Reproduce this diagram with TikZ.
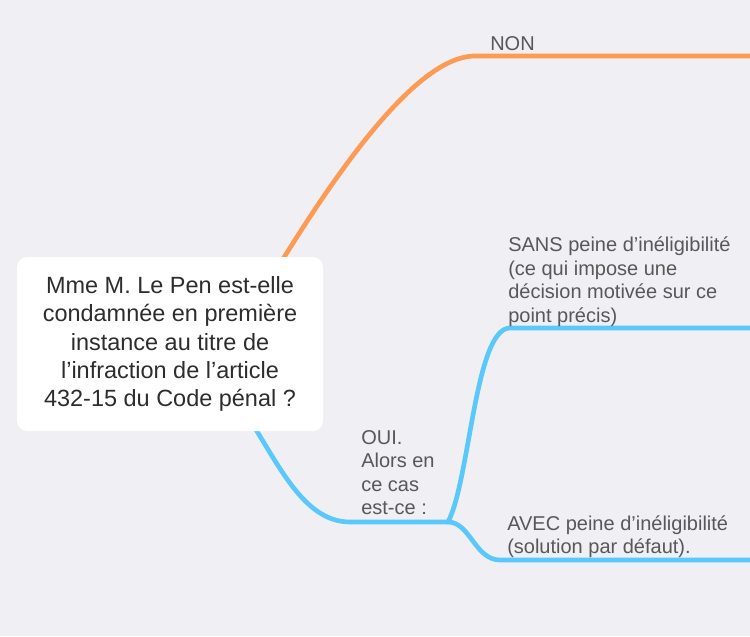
\documentclass[tikz,border=0pt]{standalone}
\usepackage{fontspec}
\setmainfont{Liberation Sans}
\usepackage{xcolor}
\usetikzlibrary{backgrounds}
\definecolor{bgGray}{RGB}{239,239,244}
\definecolor{brOrange}{RGB}{253,154,84}
\definecolor{brBlue}{RGB}{90,200,250}
\definecolor{inkq}{RGB}{45,45,45}
\definecolor{inklbl}{RGB}{88,88,88}

\begin{document}
\begin{tikzpicture}[x=0.75pt,y=-0.75pt,
  q/.style={fill=white,rounded corners=7.5pt,minimum width=229.5pt,minimum height=130.5pt,
            align=center,text=inkq,font=\fontsize{17.6}{21.2}\selectfont,inner sep=0pt},
  lbl/.style={anchor=north west,inner sep=0pt,align=left,text=inklbl,
              font=\fontsize{15}{17.6}\selectfont},
  br/.style={line width=3.5pt,line cap=round}]
  \useasboundingbox (0,0) rectangle (750,636);
  \node[q] (q) at (170,344) {Mme M. Le Pen est-elle\\condamnée en première\\instance au titre de\\l’infraction de l’article\\432-15 du Code pénal ?};
  \node[lbl] (non) at (490,36) {NON};
  \node[lbl] (oui) at (361,430) {OUI.\\Alors en\\ce cas\\est-ce :};
  \node[lbl] (sans) at (508,237) {SANS peine d’inéligibilité\\(ce qui impose une\\décision motivée sur ce\\point précis)};
  \node[lbl] (avec) at (507,515) {AVEC peine d’inéligibilité\\(solution par défaut).};
  \coordinate (fork) at (448,522);
  \coordinate (endN) at (750,56);
  \coordinate (endS) at (750,328);
  \coordinate (endA) at (750,560);
  \begin{scope}[on background layer]
    \fill[bgGray] (0,0) rectangle (750,636);
    % NON branch
    \draw[br,brOrange] ([shift={(88,-44)}]q.center) .. controls (318,200) and (410,56) .. (475,56) -- (endN);
    % OUI branch and its two cases
    \draw[br,brBlue] ([shift={(70,61)}]q.center) .. controls (275,455) and (300,522) .. (350,522) -- (fork);
    \draw[br,brBlue] (fork) .. controls (470,480) and (475,328) .. (510,328) -- (endS);
    \draw[br,brBlue] (fork) .. controls (470,522) and (475,560) .. (500,560) -- (endA);
  \end{scope}
\end{tikzpicture}
\end{document}
